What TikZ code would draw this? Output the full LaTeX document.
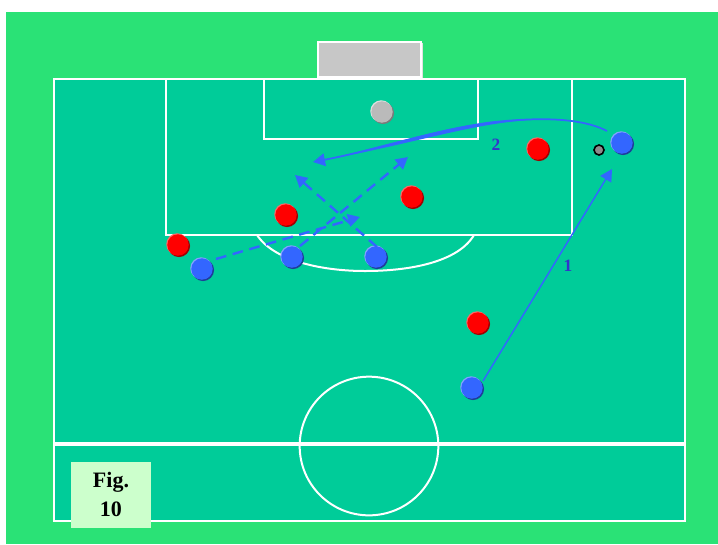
\documentclass[tikz,border=0pt]{standalone}
\usepackage{fontspec}
\setmainfont{Liberation Serif}
\usetikzlibrary{arrows.meta}
\definecolor{outer}{HTML}{2AE276}
\definecolor{pitch}{HTML}{00CC99}
\definecolor{arrowblue}{HTML}{3366FF}
\definecolor{numblue}{HTML}{3333CC}
\definecolor{figbg}{HTML}{CCFFCC}
\definecolor{redd}{HTML}{A00000}
\definecolor{redl}{HTML}{FF6666}
\definecolor{blued}{HTML}{1F3D99}
\definecolor{bluel}{HTML}{85A3FF}
\definecolor{greym}{HTML}{BABABA}
\definecolor{greyd}{HTML}{7A7A7A}
\definecolor{greyl}{HTML}{E0E0E0}
\tikzset{
  x=0.75pt,y=-0.75pt,
  pitchline/.style={draw=white,line width=1.5pt},
  run/.style={draw=arrowblue,line width=1.1pt,-{Triangle[length=9pt,width=9.5pt]}},
  pass/.style={run,dash pattern=on 8pt off 5pt,line width=1.8pt},
  numlabel/.style={font=\bfseries\fontsize{13pt}{15pt}\selectfont,text=numblue,inner sep=0pt},
}
\newcommand{\player}[6]{%
  \fill[#5] (#2+1,#3+1) circle (8.3pt);
  \fill[#6] (#2-0.8,#3-0.8) circle (8.2pt);
  \node[circle,minimum size=16pt,inner sep=0pt,fill=#4] (#1) at (#2,#3) {};
}
\begin{document}
\begin{tikzpicture}
\useasboundingbox (0,0) rectangle (718,544);
\fill[white] (0,0) rectangle (718,544);
\fill[outer] (6,12) rectangle (718,544);
\fill[pitch] (54,78) rectangle (685,521);
% goal
\fill[greyl] (319,43) rectangle (423,79);
\draw[white,line width=1.5pt,fill=black!22] (318,42) rectangle (420.5,77);
% lines
\draw[pitchline] (54,78.5) rectangle (685,520.5);
\draw[pitchline,line width=3.3pt] (54,444) -- (685,444);
\draw[pitchline] (166,78.5) rectangle (572,235);
\draw[pitchline] (264,78.5) rectangle (478,138.5);
\draw[pitchline] (257,235) .. controls (275,262) and (325,271) .. (365,271) .. controls (410,271) and (458,262) .. (474,235);
\draw[pitchline] (369,446) circle [radius=52pt];
% players
\player{gk}{382}{112}{greym}{greyd}{greyl}
\player{r1}{538}{149}{red}{redd}{redl}
\player{r2}{412}{197}{red}{redd}{redl}
\player{r3}{286}{215}{red}{redd}{redl}
\player{r4}{178}{245}{red}{redd}{redl}
\player{r5}{478}{323}{red}{redd}{redl}
\player{b1}{622}{143}{arrowblue}{blued}{bluel}
\player{b2}{202}{269}{arrowblue}{blued}{bluel}
\player{b3}{292}{257}{arrowblue}{blued}{bluel}
\player{b4}{376}{257}{arrowblue}{blued}{bluel}
\player{b5}{472}{388}{arrowblue}{blued}{bluel}
% ball
\node[circle,draw=black,line width=1.2pt,fill=black!45,minimum size=7.5pt,inner sep=0pt] (ball) at (599,150) {};
% arrows
\coordinate (a1s) at (483,381);
\coordinate (a1e) at (612,169);
\draw[run] (a1s) -- (a1e);
\coordinate (a2s) at (607,131);
\coordinate (a2e) at (313,162);
\fill[arrowblue] (530,120) .. controls (470,119) and (420,137) .. (325,160) .. controls (420,142) and (470,124) .. (530,120) -- cycle;
\draw[run,line width=1.3pt] (a2s) .. controls (578,116) and (530,118) .. (490,122.5) .. controls (430,131) and (380,149) .. (a2e);
\coordinate (a3s) at (216,259);
\coordinate (a3e) at (360,217);
\draw[pass] (a3s) -- (a3e);
\coordinate (a4s) at (300,246);
\coordinate (a4e) at (408,157);
\draw[pass] (a4s) -- (a4e);
\coordinate (a5s) at (377,247);
\coordinate (a5e) at (295,175);
\draw[pass] (a5s) -- (a5e);
\node[numlabel] (n1) at (568,265.5) {1};
\node[numlabel] (n2) at (496,145) {2};
% fig
\node[fill=figbg,minimum width=60pt,minimum height=49.5pt,inner sep=0pt,align=center,
  font=\bfseries\fontsize{16.5pt}{21.5pt}\selectfont] (fig) at (111,494.5) {Fig.\\10};
\end{tikzpicture}
\end{document}
